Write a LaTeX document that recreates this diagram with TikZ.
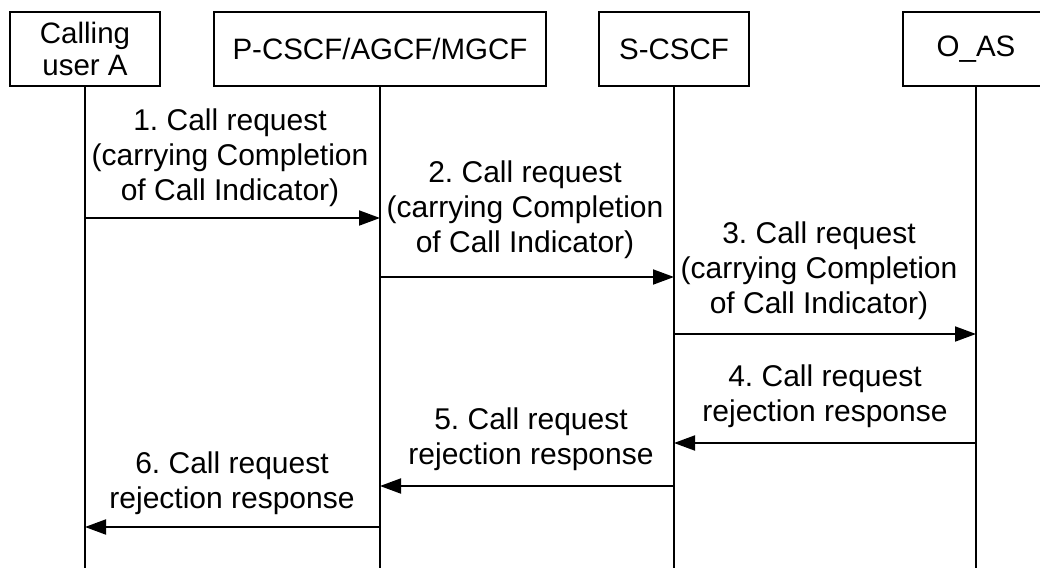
\documentclass[tikz,border=0pt]{standalone}
\usepackage{fontspec}
\setmainfont{Liberation Sans}
\usetikzlibrary{arrows.meta}
\frenchspacing

\tikzset{
  entity/.style={draw, line width=1.9pt, minimum height=74pt, inner sep=0pt, align=center,
    font=\fontsize{29.5}{31.5}\selectfont},
  lifeline/.style={line width=1.9pt},
  msg/.style={line width=1.9pt, -{Triangle[length=21pt,width=15pt]}},
  msglabel/.style={align=center, inner sep=0pt}
}

\begin{document}
\begin{tikzpicture}[x=1pt, y=-1pt, font=\fontsize{30}{35}\selectfont]
\useasboundingbox (0,0) rectangle (1040,568);

% entities
\node[entity, minimum width=150pt] (usera) at (85,49) {Calling\\user A};
\node[entity, minimum width=332pt] (pcscf) at (380,49) {P-CSCF/AGCF/MGCF};
\node[entity, minimum width=150pt] (scscf) at (674,49) {S-CSCF};
\node[entity, minimum width=146pt] (oas) at (976,49) {O\_AS};

% lifelines
\coordinate (useraend) at (85,568);
\coordinate (pcscfend) at (380,568);
\coordinate (scscfend) at (674,568);
\coordinate (oasend) at (976,568);
\draw[lifeline] (usera.south) -- (useraend);
\draw[lifeline] (pcscf.south) -- (pcscfend);
\draw[lifeline] (scscf.south) -- (scscfend);
\draw[lifeline] (oas.south) -- (oasend);

% messages
\draw[msg] (usera.south |- 0,218) -- (pcscf.south |- 0,218);
\node[msglabel] (lab1) at (230,157.5) {1. Call request\\(carrying Completion\\of Call Indicator)};

\draw[msg] (pcscf.south |- 0,277) -- (scscf.south |- 0,277);
\node[msglabel] (lab2) at (525,209.5) {2. Call request\\(carrying Completion\\of Call Indicator)};

\draw[msg] (scscf.south |- 0,334) -- (oas.south |- 0,334);
\node[msglabel] (lab3) at (819,270.5) {3. Call request\\(carrying Completion\\of Call Indicator)};

\draw[msg] (oas.south |- 0,443) -- (scscf.south |- 0,443);
\node[msglabel] (lab4) at (825,396) {4. Call request\\rejection response};

\draw[msg] (scscf.south |- 0,486) -- (pcscf.south |- 0,486);
\node[msglabel] (lab5) at (531,439.5) {5. Call request\\rejection response};

\draw[msg] (pcscf.south |- 0,527) -- (usera.south |- 0,527);
\node[msglabel] (lab6) at (232,483) {6. Call request\\rejection response};
\end{tikzpicture}
\end{document}
